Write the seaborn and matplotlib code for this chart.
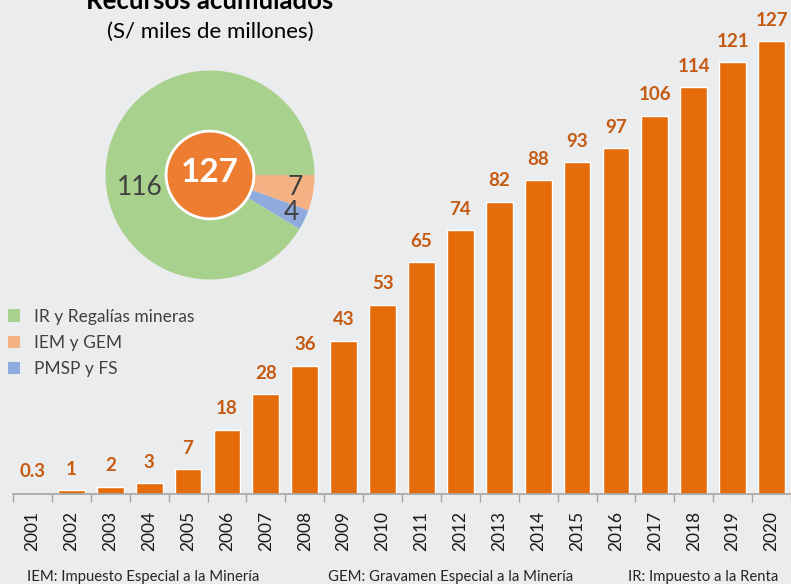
import matplotlib
matplotlib.use("Agg")
import matplotlib.pyplot as plt
from matplotlib.patches import Patch, Circle
import seaborn as sns
import pandas as pd

years = [str(y) for y in range(2001, 2021)]
acumulado = [0.3, 1, 2, 3, 7, 18, 28, 36, 43, 53, 65, 74, 82, 88, 93, 97, 106, 114, 121, 127]
value_labels = ["0.3", "1", "2", "3", "7", "18", "28", "36", "43", "53", "65",
                "74", "82", "88", "93", "97", "106", "114", "121", "127"]

pie_names = ["IEM y GEM", "PMSP y FS", "IR y Regalías mineras"]
pie_values = [7, 4, 116]
pie_total = "127"
legend_names = ["IR y Regalías mineras", "IEM y GEM", "PMSP y FS"]

footnotes = ["IEM: Impuesto Especial a la Minería",
             "GEM: Gravamen Especial a la Minería",
             "IR: Impuesto a la Renta"]

BG = "#EBECEE"
BAR = "#E46C0A"
LAB = "#C55A11"
GREEN, SALMON, BLUE = "#A9D18E", "#F4B183", "#8FAADC"

sns.set_theme(style="white")
plt.rcParams["font.family"] = ["Lato", "DejaVu Sans"]

W, H = 791, 584
fig = plt.figure(figsize=(W / 100, H / 100), dpi=100, facecolor=BG)

# bar chart
ax = fig.add_axes([13 / W, (H - 494) / H, (W - 13) / W, 494 / H])
ax.set_facecolor(BG)
df = pd.DataFrame({"year": years, "value": acumulado})
sns.barplot(data=df, x="year", y="value", color=BAR, saturation=1, width=0.69, ax=ax)
ax.set_xlim(-0.5, len(years) - 0.5)
ax.set_ylim(0, 138.5)
for i, (v, t) in enumerate(zip(acumulado, value_labels)):
    ax.annotate(t, (i, v), xytext=(0, 9), textcoords="offset points",
                ha="center", va="bottom", fontsize=13.5, fontweight="bold", color=LAB)
for s in ["top", "right", "left"]:
    ax.spines[s].set_visible(False)
ax.spines["bottom"].set_color("#A6A6A6")
ax.set_yticks([])
ax.set_xlabel("")
ax.set_ylabel("")
ax.set_xticks(range(len(years)))
ax.set_xticklabels(years, rotation=90, fontsize=12.5, color="#1a1a1a")
ax.tick_params(axis="x", which="major", length=0, pad=12)
ax.set_xticks([i - 0.5 for i in range(len(years) + 1)], minor=True)
ax.tick_params(axis="x", which="minor", length=6, color="#A6A6A6", width=1, bottom=True)

# pie
cx, cy, r = 210, 175, 104.5
pax = fig.add_axes([(cx - r) / W, (H - cy - r) / H, 2 * r / W, 2 * r / H])
pax.pie(pie_values, colors=[SALMON, BLUE, GREEN], startangle=0, counterclock=False,
        radius=1, wedgeprops=dict(linewidth=0))
pax.set_xlim(-1, 1)
pax.set_ylim(-1, 1)
pax.set_aspect("auto")
pax.axis("off")
pax.add_patch(Circle((0, 0), 0.42, facecolor="#ED7D31", edgecolor="white", linewidth=2, zorder=5))
pax.text(0, 0.02, pie_total, ha="center", va="center", fontsize=24, fontweight="bold",
         color="white", zorder=6)
pax.text(-0.67, -0.115, str(pie_values[2]), ha="center", va="center", fontsize=19, color="#404040")
pax.text(0.82, -0.12, str(pie_values[0]), ha="center", va="center", fontsize=19, color="#404040")
pax.text(0.78, -0.36, str(pie_values[1]), ha="center", va="center", fontsize=19, color="#404040")

fig.text(210 / W, 1 - 1 / H, "Recursos acumulados", ha="center", va="center",
         fontsize=18.5, fontweight="bold", color="black")
fig.text(210 / W, 1 - 32 / H, "(S/ miles de millones)", ha="center", va="center",
         fontsize=16, color="black")

handles = [Patch(facecolor=c, edgecolor="none") for c in [GREEN, SALMON, BLUE]]
fig.legend(handles, legend_names, loc="upper left", bbox_to_anchor=(-8 / W, 1 - 293 / H),
           frameon=False, fontsize=12.5, handlelength=0.7, handleheight=0.7,
           handletextpad=0.8, labelspacing=0.6, labelcolor="#404040")

fig.text(27 / W, 1 - 577 / H, footnotes[0], ha="left", va="center", fontsize=10.7)
fig.text(328 / W, 1 - 577 / H, footnotes[1], ha="left", va="center", fontsize=10.7)
fig.text(628 / W, 1 - 577 / H, footnotes[2], ha="left", va="center", fontsize=10.7)

fig.savefig("out.png", dpi=100, facecolor=BG)
